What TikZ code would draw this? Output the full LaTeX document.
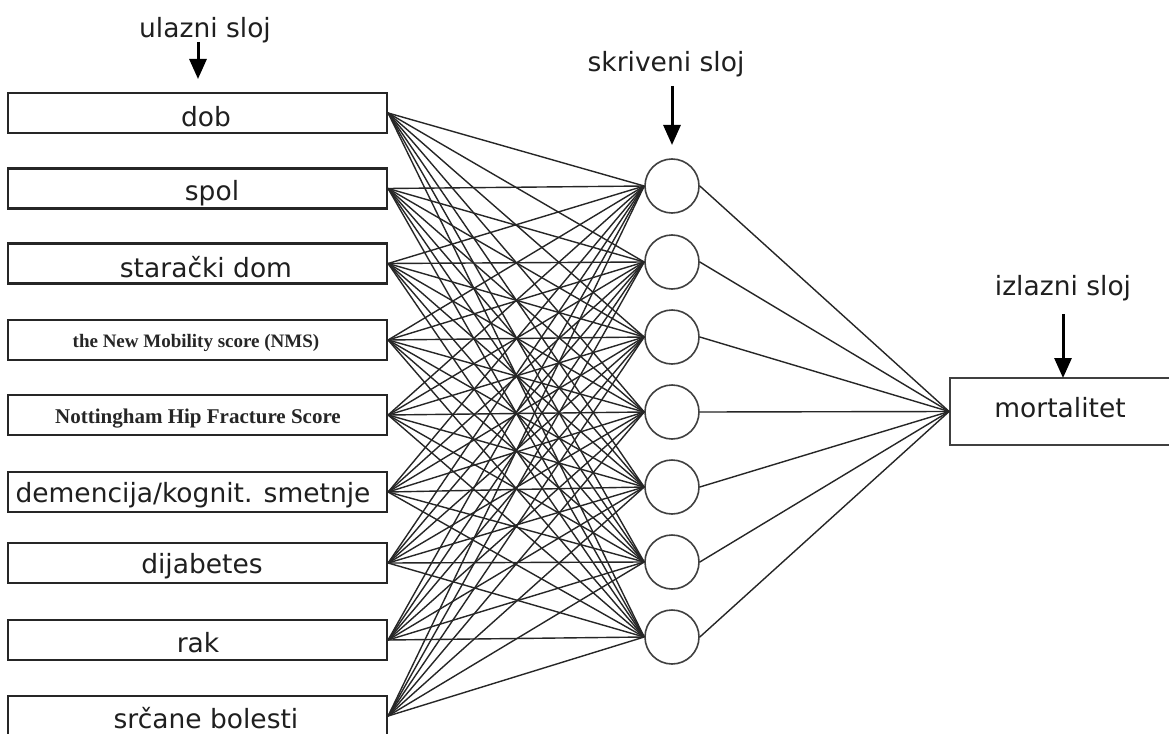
\documentclass[tikz,border=0pt]{standalone}
\usepackage{fontspec}
\setmainfont{DejaVu Sans}
\newfontfamily\serifbold{Liberation Serif}[Scale=1.0]
\usetikzlibrary{arrows.meta}
\begin{document}
\begin{tikzpicture}[x=1pt,y=-1pt,
  inbox/.style={draw=black!85,line width=2.2pt,minimum width=379pt,minimum height=40pt,inner sep=0pt},
  outbox/.style={draw=black!75,line width=1.8pt,minimum width=226pt,minimum height=67pt,inner sep=0pt},
  hid/.style={circle,draw=black!75,line width=1.6pt,minimum size=54pt,inner sep=0pt},
  lbl/.style={anchor=base,inner sep=0pt,font=\fontsize{26.5}{31}\selectfont,text=black!88},
  sbl/.style={anchor=base,inner sep=0pt,font=\serifbold\bfseries\fontsize{20}{24}\selectfont,text=black!85},
  conn/.style={draw=black!85,line width=1.4pt},
  marker/.style={draw=black,line width=3pt,-{Triangle[width=17pt,length=20pt]}}]
\useasboundingbox (0,0) rectangle (1169,733);
\fill[white] (0,0) rectangle (1169,733);
% input boxes
\foreach \i/\y in {1/113,2/188.5,3/263.5,4/340,5/415,6/492,7/563,8/640,9/716}{
  \node[inbox] (i\i) at (197.5,\y) {};
}
\node[lbl] (t1) at (206,126) {dob};
\node[lbl] (t2) at (212,200) {spol};
\node[lbl] (t3) at (206,277) {starački dom};
\node[sbl,font=\serifbold\bfseries\fontsize{19}{24}\selectfont] (t4) at (196,347) {the New Mobility score (NMS)};
\node[sbl,font=\serifbold\bfseries\fontsize{21}{24}\selectfont] (t5) at (198,423) {Nottingham Hip Fracture Score};
\node[lbl] (t6) at (193,502) {demencija/kognit. smetnje};
\node[lbl] (t7) at (202,573) {dijabetes};
\node[lbl] (t8) at (198,652) {rak};
\node[lbl] (t9) at (206,728) {srčane bolesti};
% hidden nodes
\foreach \j/\y in {1/186,2/262,3/337,4/412,5/487,6/562,7/637}{
  \node[hid] (h\j) at (672,\y) {};
}
% output
\node[outbox] (o) at (1063,411.5) {};
\node[lbl] (to) at (1060,417) {mortalitet};
% connectors
\foreach \i in {1,...,9}{
  \foreach \j in {1,...,7}{
    \draw[conn] (i\i.east) -- (h\j.west);
  }
}
\foreach \j in {1,...,7}{
  \draw[conn] (h\j.east) -- (o.west);
}
% layer labels
\node[lbl] (l1) at (205,38) {ulazni sloj};
\coordinate (a1s) at (198,42);
\coordinate (a1e) at (198,79);
\draw[marker] (a1s) -- (a1e);
\node[lbl] (l2) at (666,72) {skriveni sloj};
\coordinate (a2s) at (672,86);
\coordinate (a2e) at (672,145);
\draw[marker] (a2s) -- (a2e);
\node[lbl] (l3) at (1063,295) {izlazni sloj};
\coordinate (a3s) at (1063,314);
\coordinate (a3e) at (1063,378);
\draw[marker] (a3s) -- (a3e);
\end{tikzpicture}
\end{document}
